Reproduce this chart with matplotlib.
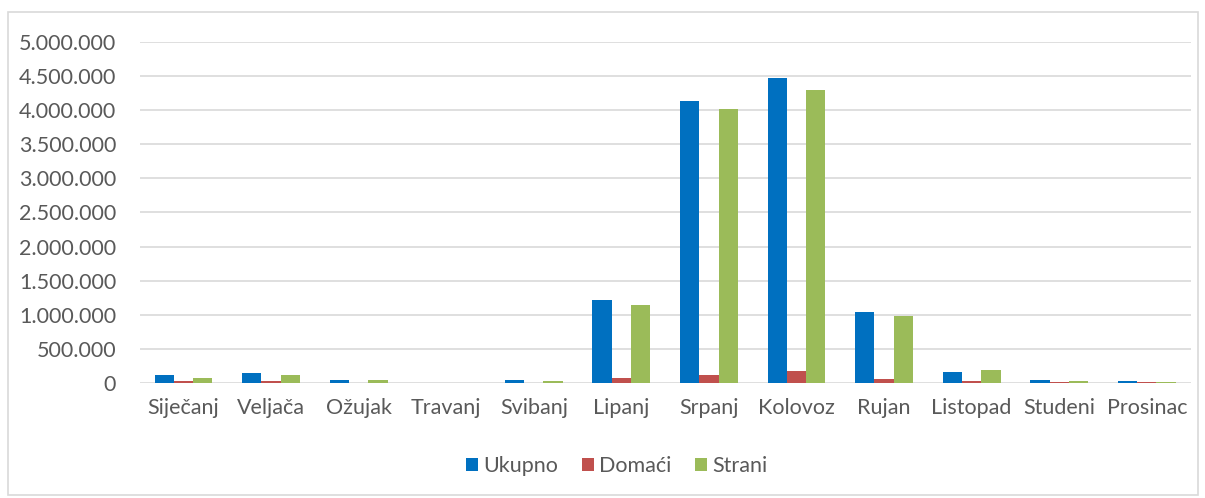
import matplotlib
matplotlib.use('Agg')
import matplotlib.pyplot as plt
from matplotlib.patches import Rectangle
from matplotlib.ticker import FuncFormatter
import numpy as np

months = ['Siječanj', 'Veljača', 'Ožujak', 'Travanj', 'Svibanj', 'Lipanj',
          'Srpanj', 'Kolovoz', 'Rujan', 'Listopad', 'Studeni', 'Prosinac']
ukupno = [117000, 142000, 50000, 3000, 40000, 1220000,
          4130000, 4475000, 1045000, 157000, 44000, 25000]
domaci = [30000, 25000, 6000, 1000, 4000, 73000,
          113000, 180000, 59000, 30000, 10000, 14000]
strani = [75000, 117000, 44000, 2000, 33000, 1144000,
          4010000, 4295000, 982000, 190000, 30000, 10000]

series = [('Ukupno', ukupno, '#0070c0'),
          ('Domaći', domaci, '#c0504d'),
          ('Strani', strani, '#9bbb59')]

plt.rcParams['font.family'] = ['Lato', 'DejaVu Sans']
txt = '#595959'

fig = plt.figure(figsize=(12.05, 4.98), dpi=100)
ax = fig.add_axes([0.116, 0.231, 0.872, 0.685])

x = np.arange(len(months))
w = 0.22
for i, (name, vals, col) in enumerate(series):
    ax.bar(x + (i - 1) * w, vals, w, color=col, label=name, zorder=3)

ax.set_xlim(-0.5, len(months) - 0.5)
ax.set_ylim(0, 5000000)
ax.set_yticks(np.arange(0, 5000001, 500000))
ax.yaxis.set_major_formatter(FuncFormatter(lambda v, p: f'{int(v):,}'.replace(',', '.')))
ax.set_xticks(x)
ax.set_xticklabels(months)
ax.grid(axis='y', color='#d9d9d9', linewidth=1.2, zorder=0)
for s in ax.spines.values():
    s.set_visible(False)
ax.tick_params(axis='both', length=0, colors=txt, labelsize=15.5)
ax.tick_params(axis='y', pad=17)
ax.tick_params(axis='x', pad=11)

fig.legend(loc='center', bbox_to_anchor=(0.512, 0.064), ncol=3, frameon=False,
           fontsize=15.5, labelcolor=txt, handlelength=0.55, handleheight=0.55,
           handletextpad=0.25, columnspacing=1.1)

fig.patches.append(Rectangle((0.007, 0.006), 0.987, 0.97, transform=fig.transFigure,
                             fill=False, edgecolor='#d9d9d9', linewidth=1.2))

fig.savefig('out.png', dpi=100)
